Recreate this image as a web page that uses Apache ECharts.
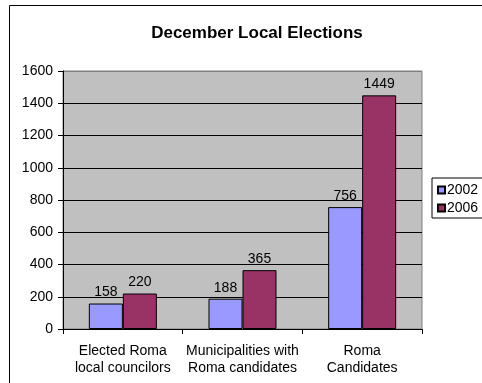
<!DOCTYPE html>
<html>
<head>
<meta charset="utf-8">
<script src="https://cdn.jsdelivr.net/npm/echarts@6/dist/echarts.min.js"></script>
<style>
html,body{margin:0;padding:0;background:#fff;}
#c{width:482px;height:383px;}
</style>
</head>
<body>
<div id="c"></div>
<script>
var categories = ['Elected Roma\nlocal councilors', 'Municipalities with\nRoma candidates', 'Roma\nCandidates'];
var seriesNames = ['2002', '2006'];
var values2002 = [158, 188, 756];
var values2006 = [220, 365, 1449];
var yTicks = [0, 200, 400, 600, 800, 1000, 1200, 1400, 1600];

var FONT = '"Liberation Sans", Arial, sans-serif';
var chart = echarts.init(document.getElementById('c'), null, {renderer: 'canvas'});
var splitColors = yTicks.map(function (v, i) { return i === yTicks.length - 1 ? '#808080' : '#000000'; });

chart.setOption({
  animation: false,
  backgroundColor: '#ffffff',
  textStyle: {fontFamily: FONT},
  title: {
    text: 'December Local Elections',
    left: 252,
    top: 20,
    textAlign: 'center',
    textStyle: {fontFamily: FONT, fontSize: 17, fontWeight: 'bold', color: '#000'}
  },
  graphic: [{
    type: 'rect',
    shape: {x: 9.5, y: 5.5, width: 600, height: 500},
    style: {fill: null, stroke: '#000', lineWidth: 1},
    silent: true,
    z: -1
  }],
  legend: {
    orient: 'vertical',
    left: 432,
    top: 178,
    padding: [5, 8, 3, 5],
    itemGap: 4,
    itemWidth: 7,
    itemHeight: 7,
    borderColor: '#000',
    borderWidth: 1,
    backgroundColor: '#fff',
    icon: 'rect',
    data: seriesNames,
    textStyle: {fontFamily: FONT, fontSize: 14, color: '#000', padding: [0, 0, 0, -3]}
  },
  grid: {
    left: 63, top: 71, right: 60, bottom: 54,
    show: true,
    backgroundColor: '#C0C0C0',
    borderColor: '#808080',
    borderWidth: 1,
    containLabel: false
  },
  xAxis: {
    type: 'category',
    data: categories,
    boundaryGap: true,
    axisLine: {show: true, lineStyle: {color: '#000', width: 1}},
    axisTick: {show: true, inside: false, length: 5, alignWithLabel: false, lineStyle: {color: '#000'}},
    axisLabel: {fontFamily: FONT, fontSize: 14, color: '#000', margin: 14, lineHeight: 17, interval: 0},
    splitLine: {show: false}
  },
  yAxis: {
    type: 'value',
    min: 0,
    max: 1600,
    interval: 200,
    axisLine: {show: true, lineStyle: {color: '#000', width: 1}},
    axisTick: {show: true, inside: false, length: 5, lineStyle: {color: '#000'}},
    axisLabel: {fontFamily: FONT, fontSize: 14, color: '#000', margin: 10, formatter: function (v) { return String(v); }},
    splitLine: {show: true, lineStyle: {color: splitColors, width: 1}}
  },
  series: [{
    name: seriesNames[0],
    type: 'bar',
    data: values2002,
    barWidth: 34,
    barGap: '0%',
    itemStyle: {color: '#9999FF', borderColor: '#000', borderWidth: 1},
    label: {show: true, position: 'top', distance: 4, fontFamily: FONT, fontSize: 14, color: '#000'}
  }, {
    name: seriesNames[1],
    type: 'bar',
    data: values2006,
    barWidth: 34,
    barGap: '0%',
    itemStyle: {color: '#993366', borderColor: '#000', borderWidth: 1},
    label: {show: true, position: 'top', distance: 4, fontFamily: FONT, fontSize: 14, color: '#000'}
  }]
});
</script>
</body>
</html>
